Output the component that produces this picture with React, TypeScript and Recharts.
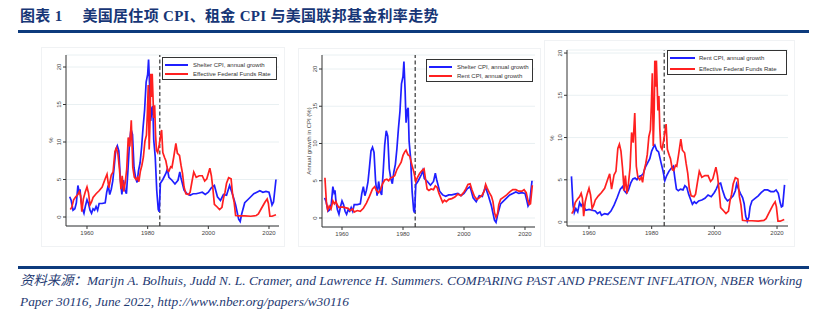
import React from "react";
import { LineChart, Line, XAxis, YAxis, CartesianGrid, ReferenceLine } from "recharts";

// Shelter CPI, annual growth (%)
const shelterYears = [
  1954.3, 1954.8, 1955.4, 1956.0, 1956.5, 1957.0, 1957.4, 1957.7, 1958.0, 1958.5,
  1959.0, 1959.5, 1960.0, 1960.5, 1961.0, 1961.5, 1962.0, 1962.5, 1963.0, 1963.5,
  1964.0, 1965.0, 1966.0, 1966.5, 1967.0, 1967.5, 1968.0, 1968.5, 1969.0, 1969.5,
  1970.0, 1970.5, 1971.0, 1971.5, 1972.0, 1972.5, 1973.0, 1973.5, 1974.0, 1974.5,
  1975.0, 1975.5, 1976.0, 1976.5, 1977.0, 1977.5, 1978.0, 1978.5, 1979.0, 1979.5,
  1980.0, 1980.3, 1980.7, 1981.0, 1981.4, 1981.7, 1982.0, 1982.5, 1983.0, 1983.5,
  1983.8, 1984.2, 1985.0, 1986.0, 1986.5, 1987.0, 1988.0, 1989.0, 1990.0, 1990.6,
  1991.0, 1992.0, 1993.0, 1994.0, 1995.0, 1996.0, 1997.0, 1998.0, 1999.0, 2000.0,
  2001.0, 2002.0, 2003.0, 2004.0, 2005.0, 2006.0, 2007.0, 2008.0, 2009.0, 2010.0,
  2010.5, 2011.0, 2012.0, 2013.0, 2014.0, 2015.0, 2016.0, 2017.0, 2018.0, 2019.0,
  2020.0, 2020.5, 2021.0, 2021.5, 2022.3,
];
const shelterValues = [
  2.7, 2.2, 0.9, 1.1, 1.9, 4.2, 3.4, 3.7, 2.3, 1.1,
  0.5, 1.5, 2.3, 1.8, 0.9, 0.5, 1.1, 0.9, 1.4, 0.9,
  1.8, 1.8, 1.9, 3.3, 4.2, 3.0, 3.7, 4.8, 6.8, 9.0,
  9.5, 8.8, 5.0, 3.0, 4.9, 3.6, 3.1, 6.2, 9.8, 11.7,
  11.0, 6.6, 5.3, 4.6, 6.2, 7.2, 9.3, 12.0, 14.3, 18.0,
  19.0, 21.0, 17.0, 12.8, 14.5, 14.8, 10.3, 8.0, 3.5, 1.0,
  0.7, 4.5, 5.0, 5.8, 6.4, 5.3, 4.9, 4.4, 4.9, 6.0,
  5.2, 3.6, 3.1, 2.9, 3.1, 3.1, 3.2, 3.3, 3.0, 3.3,
  3.9, 4.2, 2.7, 2.2, 3.0, 2.9, 4.2, 3.0, 1.6, -0.3,
  -0.6, 0.4, 1.9, 2.3, 2.7, 3.1, 3.3, 3.5, 3.3, 3.4,
  3.3, 2.5, 1.6, 2.0, 5.0,
];

// Rent CPI, annual growth (%)
const rentYears = [
  1954.4, 1954.9, 1955.3, 1955.8, 1956.4, 1957.0, 1957.5, 1958.0, 1958.5, 1959.0,
  1960.0, 1961.0, 1962.0, 1962.7, 1963.5, 1964.0, 1965.0, 1966.0, 1967.0, 1968.0,
  1969.0, 1970.0, 1970.7, 1971.3, 1972.0, 1972.6, 1973.3, 1974.0, 1974.7, 1975.3,
  1976.0, 1976.7, 1977.3, 1978.0, 1978.7, 1979.4, 1980.0, 1980.6, 1981.0, 1981.6,
  1982.2, 1983.0, 1983.6, 1984.2, 1984.8, 1985.5, 1986.3, 1986.9, 1987.4, 1987.9,
  1988.5, 1989.2, 1990.0, 1990.6, 1991.2, 1991.8, 1992.4, 1993.0, 1993.6, 1994.2,
  1995.0, 1996.0, 1997.0, 1998.0, 1999.0, 2000.0, 2000.6, 2001.3, 2002.0, 2002.6,
  2003.4, 2004.2, 2005.0, 2006.0, 2006.7, 2007.1, 2007.6, 2008.3, 2009.0, 2009.5,
  2010.0, 2010.5, 2011.0, 2011.4, 2012.0, 2013.0, 2014.0, 2015.0, 2016.0, 2017.0,
  2018.0, 2019.0, 2019.7, 2020.4, 2021.0, 2021.4, 2021.8, 2022.4,
];
const rentValues = [
  5.4, 2.0, 1.1, 1.6, 1.2, 2.3, 1.9, 2.2, 1.7, 1.4,
  1.5, 1.4, 1.3, 1.0, 1.2, 0.8, 1.0, 0.9, 1.3, 2.0,
  2.9, 3.9, 4.2, 3.7, 3.4, 3.8, 4.6, 5.1, 5.2, 5.0,
  5.4, 5.5, 5.7, 6.5, 7.0, 7.5, 8.4, 8.9, 9.1, 8.5,
  8.3, 7.0, 6.1, 4.9, 5.5, 6.0, 6.4, 6.6, 5.2, 3.9,
  3.7, 3.9, 3.8, 4.3, 4.1, 3.3, 2.7, 2.1, 2.4, 2.2,
  2.5, 2.6, 2.8, 3.2, 3.0, 3.5, 3.9, 4.5, 4.6, 3.8,
  2.9, 2.5, 2.7, 3.1, 3.7, 4.5, 4.0, 3.4, 2.9, 2.2,
  0.7, 0.1, 0.6, 1.8, 2.5, 2.8, 3.1, 3.5, 3.8, 3.8,
  3.6, 3.6, 3.8, 3.4, 2.3, 1.8, 1.9, 4.4,
];

// Effective Federal Funds Rate (%)
const fedYears = [
  1954.5, 1955.0, 1955.6, 1956.3, 1957.0, 1957.5, 1957.9, 1958.3, 1958.8, 1959.4,
  1960.0, 1960.5, 1961.0, 1961.5, 1962.0, 1963.0, 1964.0, 1965.0, 1966.0, 1966.6,
  1967.2, 1968.0, 1968.6, 1969.2, 1969.7, 1970.2, 1970.7, 1971.2, 1971.6, 1972.1,
  1972.6, 1973.1, 1973.6, 1974.1, 1974.6, 1975.1, 1975.6, 1976.2, 1976.7, 1977.1,
  1977.6, 1978.1, 1978.6, 1979.1, 1979.6, 1979.9, 1980.2, 1980.5, 1980.8, 1981.0,
  1981.3, 1981.5, 1981.8, 1982.0, 1982.3, 1982.6, 1982.9, 1983.3, 1983.8, 1984.6,
  1985.0, 1985.6, 1986.0, 1986.6, 1987.0, 1987.6, 1988.0, 1988.6, 1989.3, 1989.8,
  1990.5, 1991.0, 1991.5, 1992.0, 1992.6, 1993.5, 1994.0, 1994.6, 1995.2, 1996.0,
  1997.0, 1998.0, 1998.8, 1999.5, 2000.5, 2001.0, 2001.5, 2002.0, 2003.0, 2003.7,
  2004.5, 2005.0, 2005.5, 2006.0, 2006.7, 2007.5, 2008.0, 2008.5, 2009.0, 2010.0,
  2012.0, 2014.0, 2015.8, 2016.5, 2017.3, 2018.0, 2018.7, 2019.4, 2019.8, 2020.3,
  2021.0, 2022.3,
];
const fedValues = [
  1.0, 1.3, 2.3, 2.7, 3.0, 3.4, 2.8, 0.7, 2.4, 3.3,
  4.0, 3.2, 1.6, 2.0, 2.6, 3.1, 3.5, 4.0, 5.1, 5.7,
  3.9, 5.6, 6.0, 8.7, 9.2, 8.4, 6.4, 3.7, 5.5, 3.4,
  4.6, 6.4, 10.6, 9.4, 12.9, 6.6, 5.3, 5.0, 5.3, 4.7,
  6.1, 6.9, 8.0, 10.1, 10.9, 13.8, 17.6, 9.0, 13.0, 19.1,
  16.0, 19.1, 15.5, 13.2, 14.9, 11.0, 8.9, 8.6, 9.6, 11.6,
  8.6, 7.9, 7.5, 6.2, 6.1, 6.7, 6.6, 8.0, 9.8, 8.5,
  8.2, 6.9, 5.8, 4.0, 3.1, 3.0, 3.3, 4.7, 6.0, 5.3,
  5.5, 5.5, 4.8, 5.1, 6.5, 5.5, 3.8, 1.7, 1.3, 1.0,
  1.3, 2.5, 3.3, 4.5, 5.25, 5.1, 3.0, 2.0, 0.2, 0.15,
  0.15, 0.1, 0.2, 0.4, 1.0, 1.5, 2.0, 2.4, 1.8, 0.1,
  0.1, 0.3,
];

const yTicks = [0, 5, 10, 15, 20];
const xTicks = [1960, 1980, 2000, 2020];
const breakYear = 1984;

const shelterName = "Shelter CPI, annual growth";
const rentName = "Rent CPI, annual growth";
const fedName = "Effective Federal Funds Rate";

const zip = (xs: number[], ys: number[]) => xs.map((x, i) => ({ x, v: ys[i] }));
const shelterData = zip(shelterYears, shelterValues);
const rentData = zip(rentYears, rentValues);
const fedData = zip(fedYears, fedValues);

const BLUE = "#1f1fff";
const RED = "#ff2020";
const SANS = '"Liberation Sans", Arial, sans-serif';

const YTick = (props: any) => {
  const { x, y, payload } = props;
  return (
    <text x={x} y={y} transform={`rotate(-90 ${x} ${y})`} textAnchor="middle"
      fontSize={6} fill="#444" fontFamily={SANS}>
      {payload.value}
    </text>
  );
};

type Series = { data: { x: number; v: number }[]; color: string; name: string };

function Panel(p: {
  left: number; top: number; width: number; height: number;
  margin: { top: number; right: number; bottom: number; left: number };
  yWidth: number; xHeight: number;
  xDomain: [number, number]; yDomain: [number, number];
  yLabel: string; yLabelPos: [number, number];
  series: Series[];
  legend: { left: number; top: number; width: number; height: number; sample: number; textAt: number; rows: [number, number] };
}) {
  const lg = p.legend;
  return (
    <>
      <div style={{ position: "absolute", left: p.left, top: p.top, width: p.width - 2, height: p.height - 2, border: "1px solid #f0f2f4" }} />
      <div style={{ position: "absolute", left: p.left, top: p.top }}>
        <LineChart width={p.width} height={p.height} margin={p.margin}>
          <CartesianGrid vertical={false} stroke="#e3ecef" strokeWidth={0.8} />
          <XAxis type="number" dataKey="x" domain={p.xDomain} ticks={xTicks} allowDataOverflow
            height={p.xHeight} tickSize={3} tickMargin={2} interval={0}
            tick={{ fontSize: 6, fill: "#444", fontFamily: SANS }}
            stroke="#333" />
          <YAxis type="number" domain={p.yDomain} ticks={yTicks} allowDataOverflow
            width={p.yWidth} tickSize={3} tickMargin={2} interval={0}
            tick={<YTick />} stroke="#333" />
          <ReferenceLine x={breakYear} stroke="#444" strokeDasharray="4 2.5" strokeWidth={1.3} />
          {p.series.map((s) => (
            <Line key={s.name} data={s.data} dataKey="v" name={s.name} type="linear"
              stroke={s.color} strokeWidth={1.7} dot={false} isAnimationActive={false} />
          ))}
        </LineChart>
      </div>
      <div style={{
        position: "absolute", left: p.yLabelPos[0], top: p.yLabelPos[1],
        transform: "translate(-50%, -50%) rotate(-90deg)", whiteSpace: "nowrap",
        fontSize: 6, color: "#444", fontFamily: SANS,
      }}>{p.yLabel}</div>
      <div style={{
        position: "absolute", left: lg.left, top: lg.top, width: lg.width, height: lg.height,
        border: "1px solid #333", background: "#fff", boxSizing: "border-box",
        fontFamily: SANS, fontSize: 6, color: "#333",
      }}>
        {p.series.map((s, i) => (
          <div key={s.name}>
            <div style={{ position: "absolute", left: 2, top: lg.rows[i] - 1, width: lg.sample, height: 1.6, background: s.color }} />
            <div style={{ position: "absolute", left: lg.textAt, top: lg.rows[i] - 4, lineHeight: "8px", whiteSpace: "nowrap" }}>{s.name}</div>
          </div>
        ))}
      </div>
    </>
  );
}

export default function App() {
  return (
    <div style={{ position: "absolute", left: 0, top: 0, width: 834, height: 324, background: "#fff", overflow: "hidden" }}>
      <div style={{
        position: "absolute", left: 20, top: 4, fontSize: 15, fontWeight: 700, color: "#173676",
        fontFamily: '"Liberation Serif", "Noto Sans CJK SC", serif', letterSpacing: 0.3, whiteSpace: "nowrap",
      }}>
        图表 1<span style={{ marginLeft: 20 }}>美国居住项 CPI、租金 CPI 与美国联邦基金利率走势</span>
      </div>
      <div style={{ position: "absolute", left: 18, top: 30, width: 791, height: 3, background: "#0d3b7d" }} />

      <Panel left={41} top={47} width={244} height={200}
        margin={{ top: 8, right: 6, bottom: 0, left: 0 }} yWidth={25} xHeight={21}
        xDomain={[1953.08, 2023.3]} yDomain={[-1.2, 21.6]}
        yLabel="%" yLabelPos={[51, 140]}
        series={[
          { data: shelterData, color: BLUE, name: shelterName },
          { data: fedData, color: RED, name: fedName },
        ]}
        legend={{ left: 162, top: 57, width: 115, height: 23, sample: 23, textAt: 30, rows: [7, 16] }} />

      <Panel left={298} top={48} width={243} height={199}
        margin={{ top: 7, right: 6, bottom: 0, left: 0 }} yWidth={24} xHeight={20}
        xDomain={[1953.44, 2023.28]} yDomain={[-1.21, 21.88]}
        yLabel="Annual growth in CPI (%)" yLabelPos={[309, 141]}
        series={[
          { data: shelterData, color: BLUE, name: shelterName },
          { data: rentData, color: RED, name: rentName },
        ]}
        legend={{ left: 426, top: 59, width: 107, height: 23, sample: 23, textAt: 30, rows: [7, 16] }} />

      <Panel left={544} top={40} width={251} height={207}
        margin={{ top: 10, right: 7, bottom: 0, left: 0 }} yWidth={23} xHeight={21}
        xDomain={[1952.98, 2023.5]} yDomain={[-0.47, 20.36]}
        yLabel="%" yLabelPos={[552, 138]}
        series={[
          { data: rentData, color: BLUE, name: rentName },
          { data: fedData, color: RED, name: fedName },
        ]}
        legend={{ left: 667, top: 50, width: 120, height: 25, sample: 25, textAt: 31, rows: [7, 18] }} />

      <div style={{ position: "absolute", left: 18, top: 266, width: 791, height: 3, background: "#0d3b7d" }} />
      <div style={{
        position: "absolute", left: 20, top: 270, width: 790, fontSize: 13.4, lineHeight: "21px",
        fontStyle: "italic", color: "#1f3b73", fontFamily: '"Liberation Serif", "Noto Sans CJK SC", serif',
      }}>
        <div style={{ whiteSpace: "nowrap" }}>资料来源：Marijn A. Bolhuis, Judd N. L. Cramer, and Lawrence H. Summers. COMPARING PAST AND PRESENT INFLATION, NBER Working</div>
        <div style={{ whiteSpace: "nowrap" }}>Paper 30116, June 2022, http://www.nber.org/papers/w30116</div>
      </div>
    </div>
  );
}
